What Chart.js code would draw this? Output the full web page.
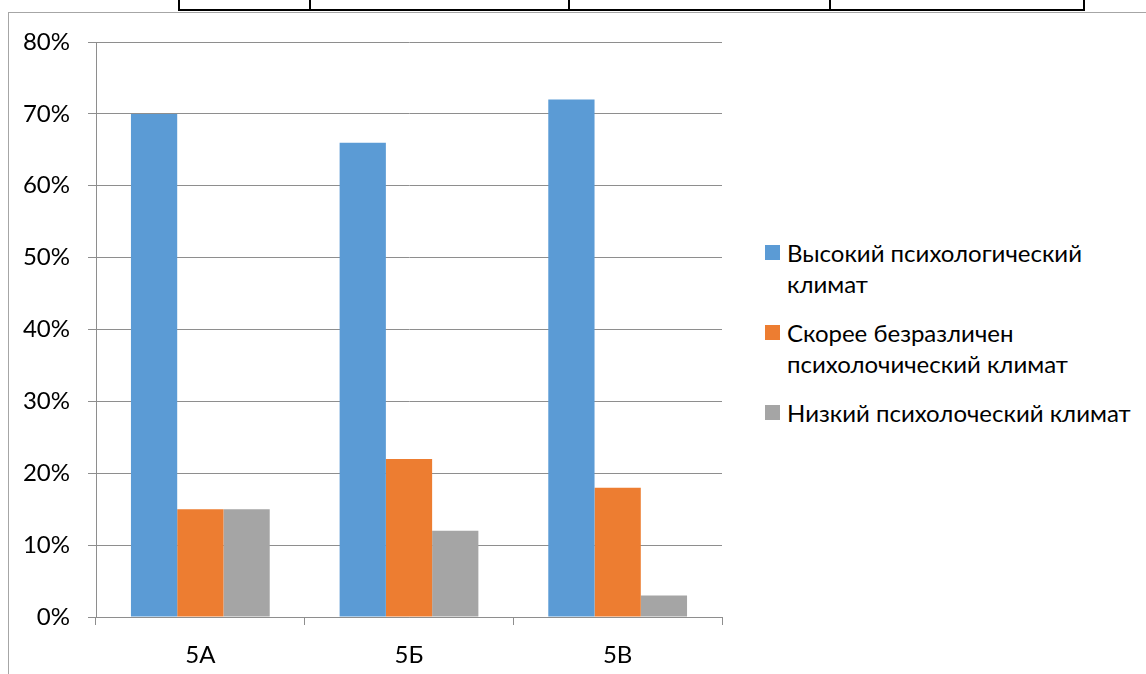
<!DOCTYPE html>
<html>
<head>
<meta charset="utf-8">
<script src="https://cdn.jsdelivr.net/npm/chart.js@4.4.1/dist/chart.umd.min.js"></script>
<style>
  body { margin: 0; background: #fff; width: 1146px; height: 674px; overflow: hidden; position: relative;
         font-family: Lato, "Open Sans", sans-serif; }
  #frame { position: absolute; left: 8px; top: 12px; width: 1138px; height: 662px;
           border-top: 1px solid #a6a6a6; border-left: 1px solid #a6a6a6; box-sizing: border-box; }
  .tline { position: absolute; background: #000; }
  #salesChart { position: absolute; left: 0; top: 0; }
  #legend { position: absolute; left: 765px; top: 237px; color: #000; font-size: 24px; }
  .item { display: flex; align-items: flex-start; margin-bottom: 18px; }
  .box { width: 15px; height: 15px; margin-top: 8px; margin-right: 7px; flex: none; }
  .txt { line-height: 31px; white-space: nowrap; }
</style>
</head>
<body>
<div id="frame"></div>
<div class="tline" style="left:178px;top:9px;width:907px;height:2px"></div>
<div class="tline" style="left:178px;top:0;width:2px;height:11px"></div>
<div class="tline" style="left:309px;top:0;width:2px;height:11px"></div>
<div class="tline" style="left:568px;top:0;width:2px;height:11px"></div>
<div class="tline" style="left:829px;top:0;width:2px;height:11px"></div>
<div class="tline" style="left:1083px;top:0;width:2px;height:11px"></div>
<canvas id="salesChart" width="740" height="674"></canvas>
<div id="legend"></div>
<script>
const categories = ['5А', '5Б', '5В'];
const highClimate = [70, 66, 72];
const neutralClimate = [15, 22, 18];
const lowClimate = [15, 12, 3];

// legend lines, wrapped the way the original shows them
const seriesNames = [
  ['Высокий психологический', 'климат'],
  ['Скорее безразличен', 'психолочический климат'],
  ['Низкий психолоческий климат']
];
const seriesColors = ['#5B9BD5', '#ED7D31', '#A5A5A5'];

const yMin = 0;
const yMax = 80;
const yStep = 10;

const gridColor = '#8e8e8e';
const tickFont = { family: 'Lato, "Open Sans", sans-serif', size: 24 };

const seriesValues = [highClimate, neutralClimate, lowClimate];

const datasets = seriesValues.map((values, i) => ({
  label: seriesNames[i].join(' '),
  data: values,
  backgroundColor: seriesColors[i],
  borderWidth: 0,
  categoryPercentage: 0.665,
  barPercentage: 1
}));

const config = {
  type: 'bar',
  data: { labels: categories, datasets: datasets },
  options: {
    responsive: false,
    animation: false,
    devicePixelRatio: 1,
    layout: { padding: { top: 42, right: 18, bottom: 0, left: 0 } },
    plugins: {
      legend: { display: false },
      tooltip: { enabled: false }
    },
    scales: {
      x: {
        offset: true,
        grid: { offset: true, drawOnChartArea: false, drawTicks: true, tickLength: 8, color: gridColor },
        border: { display: true, color: gridColor },
        ticks: { color: '#000', font: tickFont, padding: 16, maxRotation: 0 },
        afterFit: (scale) => { scale.height = 57; }
      },
      y: {
        min: yMin,
        max: yMax,
        grid: { color: gridColor, tickLength: 8, drawTicks: true },
        border: { display: true, color: gridColor },
        ticks: {
          stepSize: yStep,
          color: '#000',
          font: tickFont,
          padding: 18,
          callback: (v) => v + '%'
        },
        afterFit: (scale) => { scale.width = 96; }
      }
    }
  }
};

const salesChart = new Chart(document.getElementById('salesChart'), config);

// HTML legend built from the same series arrays
const legendElem = document.getElementById('legend');
seriesNames.forEach((lines, i) => {
  const item = document.createElement('div');
  item.className = 'item';
  const box = document.createElement('div');
  box.className = 'box';
  box.style.background = seriesColors[i];
  const txt = document.createElement('div');
  txt.className = 'txt';
  lines.forEach((line, j) => {
    if (j > 0) txt.appendChild(document.createElement('br'));
    txt.appendChild(document.createTextNode(line));
  });
  item.appendChild(box);
  item.appendChild(txt);
  legendElem.appendChild(item);
});
</script>
</body>
</html>
